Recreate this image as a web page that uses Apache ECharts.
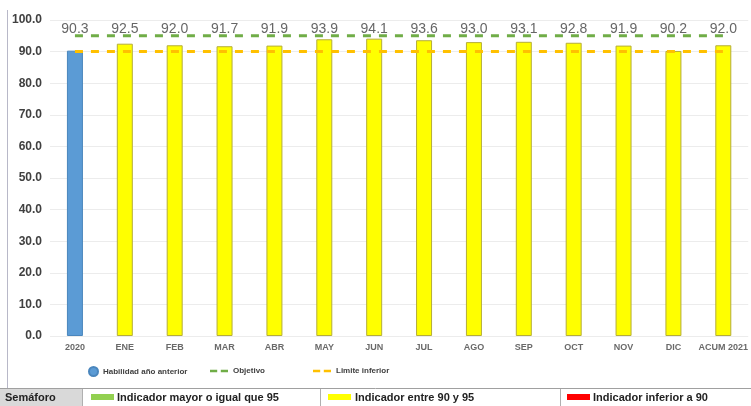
<!DOCTYPE html>
<html>
<head>
<meta charset="utf-8">
<script src="https://cdn.jsdelivr.net/npm/echarts@6/dist/echarts.min.js"></script>
<style>html,body{margin:0;padding:0;background:#fff}#c{width:751px;height:406px}</style>
</head>
<body>
<div id="c"></div>
<script>
const categories = ['2020','ENE','FEB','MAR','ABR','MAY','JUN','JUL','AGO','SEP','OCT','NOV','DIC','ACUM 2021'];
const prevYear = [90.3, null, null, null, null, null, null, null, null, null, null, null, null, null];
const monthly = [null, 92.5, 92.0, 91.7, 91.9, 93.9, 94.1, 93.6, 93.0, 93.1, 92.8, 91.9, 90.2, 92.0];
const objetivo = [95, 95, 95, 95, 95, 95, 95, 95, 95, 95, 95, 95, 95, 95];
const limite = [90, 90, 90, 90, 90, 90, 90, 90, 90, 90, 90, 90, 90, 90];
const yTicks = [0, 10, 20, 30, 40, 50, 60, 70, 80, 90, 100];
const semaforo = ['Semáforo', 'Indicador mayor o igual que 95', 'Indicador entre 90 y 95', 'Indicador inferior a 90'];

const shown = categories.map((c, i) => prevYear[i] != null ? prevYear[i] : monthly[i]);
const LABEL_Y = 97.0;

const chart = echarts.init(document.getElementById('c'), null, {renderer: 'canvas'});
const legendText = {fontSize: 8, fontWeight: 'bold', color: '#404040', fontFamily: 'Liberation Sans'};
const dashIcon = 'path://M0,0 h8 v3 h-8z M12,0 h8 v3 h-8z';
const option = {
  animation: false,
  grid: {left: 50, right: 1, top: 20, bottom: 70},
  xAxis: {
    type: 'category', data: categories,
    axisLine: {show: false}, axisTick: {show: false},
    axisLabel: {fontSize: 9, color: '#6a6a6a', fontWeight: 'bold', fontFamily: 'Liberation Sans Narrow, Liberation Sans', margin: 7, interval: 0}
  },
  yAxis: {
    type: 'value', min: yTicks[0], max: yTicks[yTicks.length - 1], interval: 10,
    axisLine: {show: false}, axisTick: {show: false},
    splitLine: {lineStyle: {color: '#ececec', width: 1}},
    axisLabel: {fontSize: 12, fontWeight: 'bold', color: '#404040', fontFamily: 'Liberation Sans', margin: 8, formatter: v => v.toFixed(1)}
  },
  legend: [
    {left: 83, top: 361, itemWidth: 9, itemHeight: 9, itemGap: 4, textStyle: legendText,
     data: [{name: 'Habilidad año anterior', icon: 'circle'}]},
    {left: 205, top: 362, itemWidth: 18, itemHeight: 3, textStyle: legendText,
     data: [{name: 'Objetivo', icon: dashIcon, itemStyle: {color: '#70ad47'}}]},
    {left: 308, top: 362, itemWidth: 18, itemHeight: 3, textStyle: legendText,
     data: [{name: 'Limite inferior', icon: dashIcon, itemStyle: {color: '#ffc000'}}]}
  ],
  series: [
    {name: 'Habilidad año anterior', type: 'bar', data: prevYear, barWidth: 16, barGap: '-100%',
     itemStyle: {color: '#5b9bd5', borderColor: '#4a86bd', borderWidth: 1}},
    {name: 'Indicador', type: 'bar', data: monthly, barWidth: 16, barGap: '-100%',
     itemStyle: {color: '#ffff00', borderColor: '#b5ad3a', borderWidth: 1}},
    {name: 'Objetivo', type: 'line', data: objetivo, symbol: 'none', z: 5,
     itemStyle: {color: '#70ad47'},
     lineStyle: {color: '#70ad47', width: 3, type: [8, 8]}},
    {name: 'Limite inferior', type: 'line', data: limite, symbol: 'none', z: 5,
     itemStyle: {color: '#ffc000'},
     lineStyle: {color: '#ffc000', width: 3, type: [8, 8]}},
    {name: 'labels', type: 'scatter', data: shown.map(() => LABEL_Y), symbolSize: 0, z: 6,
     label: {show: true, position: 'inside', fontSize: 14, color: '#404040', fontFamily: 'Liberation Sans',
       formatter: p => shown[p.dataIndex].toFixed(1)}}
  ],
  graphic: [
    {type: 'line', shape: {x1: 7.5, y1: 10, x2: 7.5, y2: 406}, style: {stroke: '#b8b8c8', lineWidth: 1}},
    {type: 'rect', shape: {x: 0, y: 389, width: 82, height: 17}, style: {fill: '#d9d9d9'}},
    {type: 'line', shape: {x1: 0, y1: 388.5, x2: 751, y2: 388.5}, style: {stroke: '#a0a0a0', lineWidth: 1}},
    {type: 'line', shape: {x1: 82.5, y1: 389, x2: 82.5, y2: 406}, style: {stroke: '#b0b0b0', lineWidth: 1}},
    {type: 'line', shape: {x1: 320.5, y1: 389, x2: 320.5, y2: 406}, style: {stroke: '#b0b0b0', lineWidth: 1}},
    {type: 'line', shape: {x1: 560.5, y1: 389, x2: 560.5, y2: 406}, style: {stroke: '#b0b0b0', lineWidth: 1}},
    {type: 'text', left: 5, top: 392, style: {text: semaforo[0], font: 'bold 11px Liberation Sans', fill: '#222'}},
    {type: 'rect', shape: {x: 91, y: 394, width: 23, height: 6}, style: {fill: '#92d050'}},
    {type: 'text', left: 117, top: 392, style: {text: semaforo[1], font: 'bold 11px Liberation Sans', fill: '#222'}},
    {type: 'rect', shape: {x: 328, y: 394, width: 23, height: 6}, style: {fill: '#ffff00'}},
    {type: 'text', left: 355, top: 392, style: {text: semaforo[2], font: 'bold 11px Liberation Sans', fill: '#222'}},
    {type: 'rect', shape: {x: 567, y: 394, width: 23, height: 6}, style: {fill: '#ff0000'}},
    {type: 'text', left: 593, top: 392, style: {text: semaforo[3], font: 'bold 11px Liberation Sans', fill: '#222'}}
  ]
};
chart.setOption(option);
</script>
</body>
</html>
